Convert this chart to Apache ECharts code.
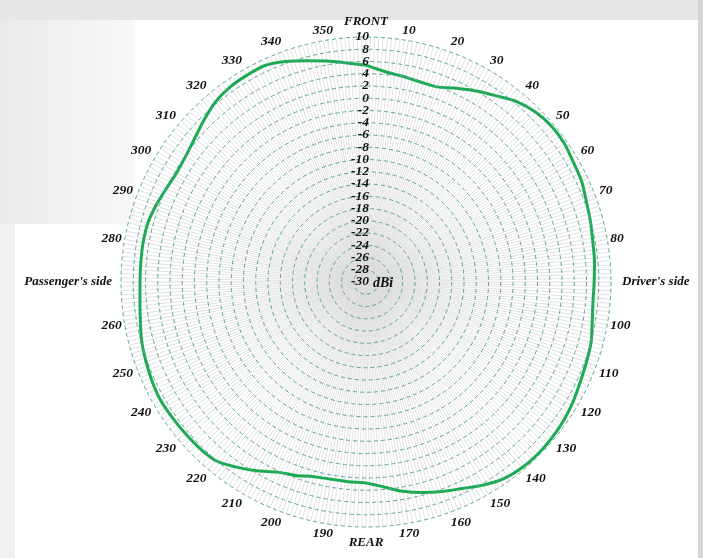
<!DOCTYPE html>
<html><head><meta charset="utf-8">
<script src="https://cdn.jsdelivr.net/npm/echarts@6/dist/echarts.min.js"></script>
<style>html,body{margin:0;padding:0;background:#fff;}#c{width:703px;height:558px;}</style>
</head><body><div id="c"></div>
<script>
// Angles (degrees, clockwise from FRONT) and measured gain (dBi)
var angles = [0,5,10,15,20,25,30,35,40,45,50,55,60,65,70,75,80,85,90,95,100,105,110,115,120,125,130,135,140,145,150,155,160,165,170,175,180,185,190,195,200,205,210,215,220,225,230,235,240,245,250,255,260,265,270,275,280,285,290,295,300,305,310,315,320,325,330,335,340,345,350,355,360];
var gain = [5.4,4.5,4.1,3.85,3.9,4.9,6.0,7.1,8.4,9.2,9.55,9.5,9.1,8.85,8.3,7.95,7.6,7.45,7.25,7.2,7.5,8.05,8.3,8.6,9.05,9.4,9.6,9.7,9.6,9.2,8.3,7.2,6.4,5.6,4.7,3.6,2.8,2.75,2.7,2.9,3.6,4.25,5.6,6.9,8.1,8.4,8.5,8.6,8.7,8.5,8.2,7.9,7.4,7.05,6.9,6.9,6.95,6.9,6.5,6.0,5.7,5.9,6.5,7.4,8.3,8.8,8.95,9.0,8.3,7.4,6.65,5.9,5.4];
var radialMin = -30, radialMax = 10, radialStep = 2;
var directionNames = {0:'{t|FRONT}', 90:"{r|Driver's side}", 180:'{b|REAR}', 270:"{l|Passenger's side}", 360:''};

var data = angles.map(function(a,i){ return [gain[i], a]; });
var chart = echarts.init(document.getElementById('c'));
var serif = '"Liberation Serif","DejaVu Serif",serif';
var wordStyle = {fontFamily:serif, fontStyle:'italic', fontWeight:'bold', fontSize:13, color:'#111'};
var R = 245, C = [366, 282];
function stepIndex(v){ return Math.round((v - radialMin) / radialStep); }
// radial tick labels are split over two identical polar systems (even / odd ticks)
// so that ECharts never drops a label next to the min/max label
function radialLabel(parity){
  return {show:true, margin:-3, align:'right', verticalAlign:'middle', color:'#111',
    fontFamily:serif, fontStyle:'italic', fontWeight:'bold', fontSize:13.5,
    showMinLabel: parity === 0, showMaxLabel: parity === 0,
    formatter:function(v){ return stepIndex(v) % 2 === parity ? String(v) : ''; }};
}
chart.setOption({
  backgroundColor: '#ffffff',
  animation: false,
  graphic: [
    {type:'rect', shape:{x:0,y:0,width:703,height:20}, style:{fill:'#e6e6e6'}, z:-10},
    {type:'rect', shape:{x:0,y:20,width:135,height:204}, style:{fill:{type:'linear',x:0,y:0,x2:1,y2:0,colorStops:[{offset:0,color:'#eaeaea'},{offset:1,color:'#f8f8f8'}]}}, z:-10},
    {type:'rect', shape:{x:0,y:224,width:15,height:334}, style:{fill:'#f1f0ef'}, z:-10},
    {type:'rect', shape:{x:698,y:0,width:5,height:558}, style:{fill:'#d6d6d6'}, z:-10},
    {type:'text', left:373, top:276, style:{text:'dBi', fill:'#111', font:'italic bold 14px '+serif}, z:10}
  ],
  polar: [{center:C, radius:R}, {center:C, radius:R}],
  angleAxis: [{
    polarIndex:0, type:'value', min:0, max:360, interval:10, startAngle:90, clockwise:true,
    axisLine:{show:false}, axisTick:{show:false},
    axisLabel:{show:true, margin:3, color:'#111', fontFamily:serif, fontStyle:'italic', fontWeight:'bold', fontSize:13.5,
      formatter:function(v){ return directionNames.hasOwnProperty(v) ? directionNames[v] : String(v); },
      rich:{
        t: Object.assign({padding:[0,0,6,0]}, wordStyle),
        b: Object.assign({padding:[6,0,0,0]}, wordStyle),
        r: Object.assign({padding:[0,0,0,8]}, wordStyle),
        l: Object.assign({padding:[0,6,0,0]}, wordStyle)
      }},
    splitLine:{show:true, lineStyle:{color:'#d4d4d4', width:0.8}},
    minorTick:{show:false, splitNumber:10},
    minorSplitLine:{show:true, lineStyle:{color:'#dcdcdc', width:0.8}}
  }, {
    polarIndex:1, type:'value', min:0, max:360, startAngle:90, clockwise:true, show:false
  }],
  radiusAxis: [{
    polarIndex:0, type:'value', min:radialMin, max:radialMax, interval:radialStep,
    axisLine:{show:false}, axisTick:{show:false}, axisLabel:radialLabel(0),
    splitLine:{show:true, lineStyle:{color:'#5aa894', width:1, type:[4,3]}}, z:5
  }, {
    polarIndex:1, type:'value', min:radialMin, max:radialMax, interval:radialStep,
    axisLine:{show:false}, axisTick:{show:false}, splitLine:{show:false},
    axisLabel:radialLabel(1), z:5
  }],
  series: [{
    type:'line', coordinateSystem:'polar', polarIndex:0, data:data, showSymbol:false, smooth:0.3,
    lineStyle:{color:'#1eaa55', width:3}, z:3
  }]
});
</script></body></html>
